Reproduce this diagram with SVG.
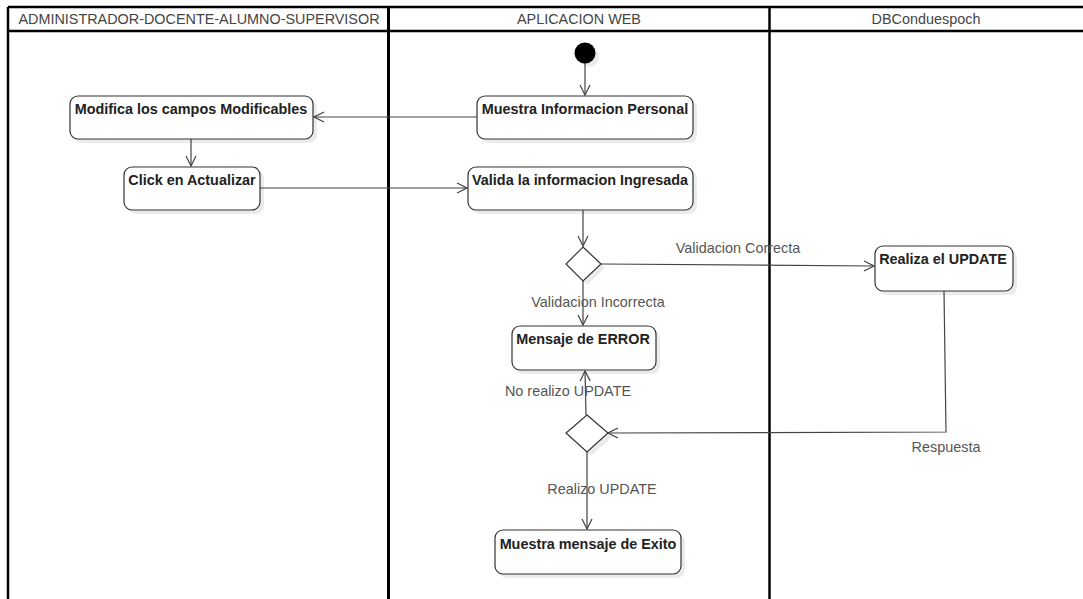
<svg xmlns="http://www.w3.org/2000/svg" width="1083" height="599" viewBox="0 0 1083 599">
<style>
.lane{fill:none;stroke:#000;stroke-width:2.5}
.hdr{font-family:"Liberation Sans",Arial,sans-serif;font-size:14.4px;fill:#444;text-anchor:middle}
.box{fill:#fff;stroke:#333;stroke-width:1.2}
.shadow{fill:#000;opacity:0.08}
.nt{font-family:"Liberation Sans",Arial,sans-serif;font-size:14.4px;font-weight:bold;fill:#222;text-anchor:middle}
.lbl{font-family:"Liberation Sans",Arial,sans-serif;font-size:14.4px;fill:#555;text-anchor:middle}
.edge{fill:none;stroke:#444;stroke-width:1.2}
</style>
<defs>
<marker id="open" viewBox="0 0 12 12" refX="11" refY="6" markerWidth="12" markerHeight="12" markerUnits="userSpaceOnUse" orient="auto">
<path d="M1,1 L11,6 L1,11" fill="none" stroke="#444" stroke-width="1.2"/>
</marker>
</defs>
<rect width="1083" height="599" fill="#fff"/>
<g id="lanes">
<line class="lane" x1="8" y1="7" x2="1085" y2="7"/>
<line class="lane" x1="8" y1="31" x2="1085" y2="31"/>
<line class="lane" x1="8" y1="7" x2="8" y2="600"/>
<line class="lane" x1="388.5" y1="7" x2="388.5" y2="600" style="stroke-width:3"/>
<line class="lane" x1="769.5" y1="7" x2="769.5" y2="600"/>
<text class="hdr" x="199" y="24">ADMINISTRADOR-DOCENTE-ALUMNO-SUPERVISOR</text>
<text class="hdr" x="579" y="24">APLICACION WEB</text>
<text class="hdr" x="926" y="24">DBConduespoch</text>
</g>
<g id="connectors">
<line class="edge" x1="585" y1="63" x2="585" y2="95" marker-end="url(#open)"/>
<line class="edge" x1="477" y1="117" x2="314" y2="117" marker-end="url(#open)"/>
<line class="edge" x1="191" y1="139" x2="191" y2="166" marker-end="url(#open)"/>
<line class="edge" x1="260" y1="188" x2="467" y2="188" marker-end="url(#open)"/>
<line class="edge" x1="583" y1="210" x2="583" y2="246" marker-end="url(#open)"/>
<line class="edge" x1="601" y1="264" x2="874" y2="266" marker-end="url(#open)"/>
<line class="edge" x1="583" y1="281" x2="583" y2="325" marker-end="url(#open)"/>
<text class="lbl" x="598" y="307">Validacion Incorrecta</text>
<text class="lbl" x="738" y="253">Validacion Correcta</text>
<polyline class="edge" points="944,291 946,432 608,433" marker-end="url(#open)"/>
<text class="lbl" x="946" y="452">Respuesta</text>
<line class="edge" x1="586" y1="415" x2="585" y2="371" marker-end="url(#open)"/>
<text class="lbl" x="568" y="396">No realizo UPDATE</text>
<line class="edge" x1="587" y1="452" x2="587" y2="529" marker-end="url(#open)"/>
<text class="lbl" x="602" y="494">Realizo UPDATE</text>
</g>
<g id="start">
<circle cx="589" cy="57" r="10" class="shadow"/>
<circle cx="585" cy="53" r="10.5" fill="#000"/>
</g>
<g id="modifica">
<rect class="shadow" x="74" y="100" width="243" height="43" rx="8"/>
<rect class="box" x="70" y="96" width="243" height="43" rx="8"/>
<text class="nt" x="191" y="114">Modifica los campos Modificables</text>
</g>
<g id="click">
<rect class="shadow" x="128" y="171" width="136" height="43" rx="8"/>
<rect class="box" x="124" y="167" width="136" height="43" rx="8"/>
<text class="nt" x="192" y="185">Click en Actualizar</text>
</g>
<g id="muestra-info">
<rect class="shadow" x="481" y="100" width="216" height="43" rx="8"/>
<rect class="box" x="477" y="96" width="216" height="43" rx="8"/>
<text class="nt" x="585" y="114">Muestra Informacion Personal</text>
</g>
<g id="valida">
<rect class="shadow" x="472" y="171" width="225" height="43" rx="8"/>
<rect class="box" x="468" y="167" width="225" height="43" rx="8"/>
<text class="nt" x="580" y="185">Valida la informacion Ingresada</text>
</g>
<g id="decision1">
<polygon class="shadow" points="587,251 605,268 587,285 570,268"/>
<polygon class="box" points="583,247 601,264 583,281 566,264"/>
</g>
<g id="realiza">
<rect class="shadow" x="879" y="250" width="138" height="45" rx="8"/>
<rect class="box" x="875" y="246" width="138" height="45" rx="8"/>
<text class="nt" x="943" y="264">Realiza el UPDATE</text>
</g>
<g id="error">
<rect class="shadow" x="516" y="330" width="144" height="44" rx="8"/>
<rect class="box" x="512" y="326" width="144" height="44" rx="8"/>
<text class="nt" x="583" y="344">Mensaje de ERROR</text>
</g>
<g id="decision2">
<polygon class="shadow" points="591,419 612,437 591,456 570,437"/>
<polygon class="box" points="587,415 608,433 587,452 566,433"/>
</g>
<g id="exito">
<rect class="shadow" x="499" y="534" width="186" height="44" rx="8"/>
<rect class="box" x="495" y="530" width="186" height="44" rx="8"/>
<text class="nt" x="588" y="549">Muestra mensaje de Exito</text>
</g>
</svg>
